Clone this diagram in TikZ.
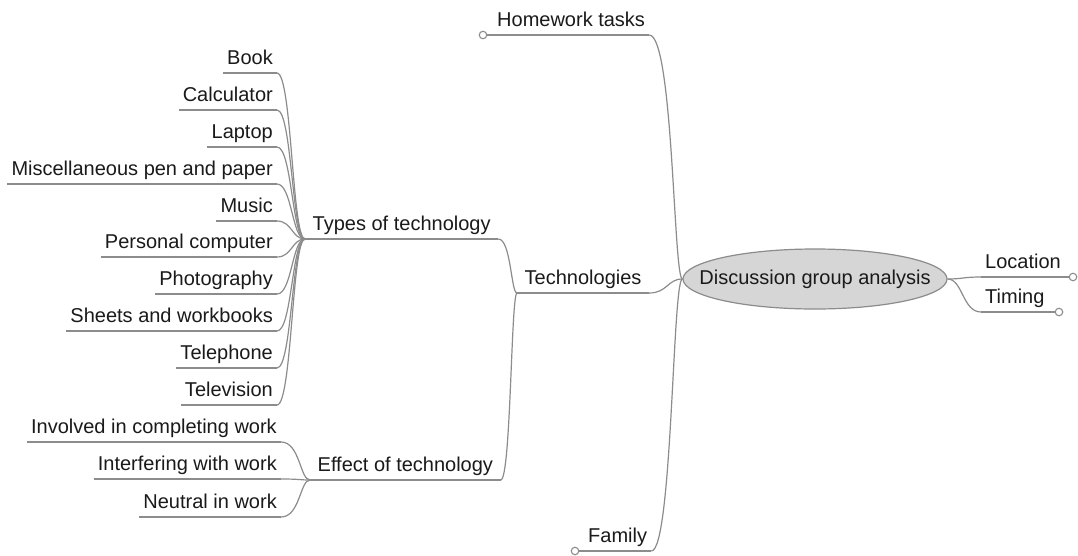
\documentclass[tikz,border=0pt]{standalone}
\usepackage{fontspec}
\setmainfont{Liberation Sans}
\usetikzlibrary{shapes.geometric,calc}
\definecolor{edgegray}{HTML}{8C8C8C}
\definecolor{rootfill}{HTML}{D6D6D6}
\definecolor{txt}{HTML}{1A1A1A}
\newcommand\mmlink[3]{\draw[edge] (#2) .. controls ($(#1|-#2)+(#3,0)$) and ($(#1)+(#3,0)$) .. (#1);}
\newcommand\mmline[1]{\draw[edge] (#1.south west) -- (#1.south east);}
\begin{document}
\begin{tikzpicture}[x=1pt,y=-1pt,
  edge/.style={draw=edgegray,line width=1.2pt},
  lbl/.style={font=\fontsize{20}{22}\selectfont,text=txt,text height=14.5pt,text depth=4.5pt,inner ysep=3.5pt,inner xsep=4pt},
  leafr/.style={lbl,anchor=south east},
  leafl/.style={lbl,anchor=south west},
  branch/.style={lbl,anchor=south west,inner xsep=7.5pt},
  rootnode/.style={ellipse,draw=edgegray,line width=1.2pt,fill=rootfill,minimum width=264pt,minimum height=60pt,inner sep=0pt,font=\fontsize{20}{22}\selectfont,text=txt,text height=7pt,text depth=7pt},
  dot/.style={circle,draw=edgegray,line width=1.1pt,fill=white,minimum size=7.5pt,inner sep=0pt}]
\useasboundingbox (0,0) rectangle (1078,555);
\fill[white] (0,0) rectangle (1078,555);

% root
\node[rootnode] (ell) at (815,279) {\makebox[0pt]{\raisebox{-0.5ex}{Discussion group analysis}}};

% first level
\node[leafl] (hw) at (493,35) {Homework tasks};
\node[branch] (tech) at (517,293) {Technologies};
\node[leafl] (fam) at (584,551) {Family};
\node[leafl] (loc) at (981,277) {Location};
\node[leafl] (tim) at (981,312) {Timing};

% second level
\node[branch] (types) at (305,239) {Types of technology};
\node[branch] (effect) at (310,480) {Effect of technology};

% leaves of types
\node[leafr] (book) at (277,73) {Book};
\node[leafr] (calc) at (277,110) {Calculator};
\node[leafr] (laptop) at (277,147) {Laptop};
\node[leafr] (misc) at (277,184) {Miscellaneous pen and paper};
\node[leafr] (music) at (277,221) {Music};
\node[leafr] (pc) at (277,257) {Personal computer};
\node[leafr] (photo) at (277,294) {Photography};
\node[leafr] (sheets) at (277,331) {Sheets and workbooks};
\node[leafr] (tel) at (277,368) {Telephone};
\node[leafr] (tv) at (277,405) {Television};

% leaves of effect
\node[leafr] (inv) at (281,442) {Involved in completing work};
\node[leafr] (intf) at (281,479) {Interfering with work};
\node[leafr] (neut) at (281,517) {Neutral in work};

% underlines
\foreach \n in {hw,tech,fam,loc,tim,types,effect,book,calc,laptop,misc,music,pc,photo,sheets,tel,tv,inv,intf,neut}{\mmline{\n}}

% connectors
\mmlink{ell.west}{hw.south east}{-9}
\mmlink{ell.west}{tech.south east}{-15}
\mmlink{ell.west}{fam.south east}{-10}
\mmlink{ell.east}{loc.south west}{15}
\mmlink{ell.east}{tim.south west}{15}
\mmlink{tech.south west}{types.south east}{-6}
\mmlink{tech.south west}{effect.south east}{-6}
\foreach \n in {book,calc,laptop,misc,music,pc,photo,sheets,tel,tv}{\mmlink{types.south west}{\n.south east}{-13}}
\foreach \n in {inv,intf,neut}{\mmlink{effect.south west}{\n.south east}{-10}}

% end circles
\node[dot] (hwdot) at (483,35) {};
\node[dot] (famdot) at (575,551) {};
\node[dot] (locdot) at (1073,277) {};
\node[dot] (timdot) at (1059,312) {};
\draw[edge] (hwdot.east) -- (hw.south west);
\draw[edge] (famdot.east) -- (fam.south west);
\draw[edge] (loc.south east) -- (locdot.west);
\draw[edge] (tim.south east) -- (timdot.west);
\end{tikzpicture}
\end{document}
